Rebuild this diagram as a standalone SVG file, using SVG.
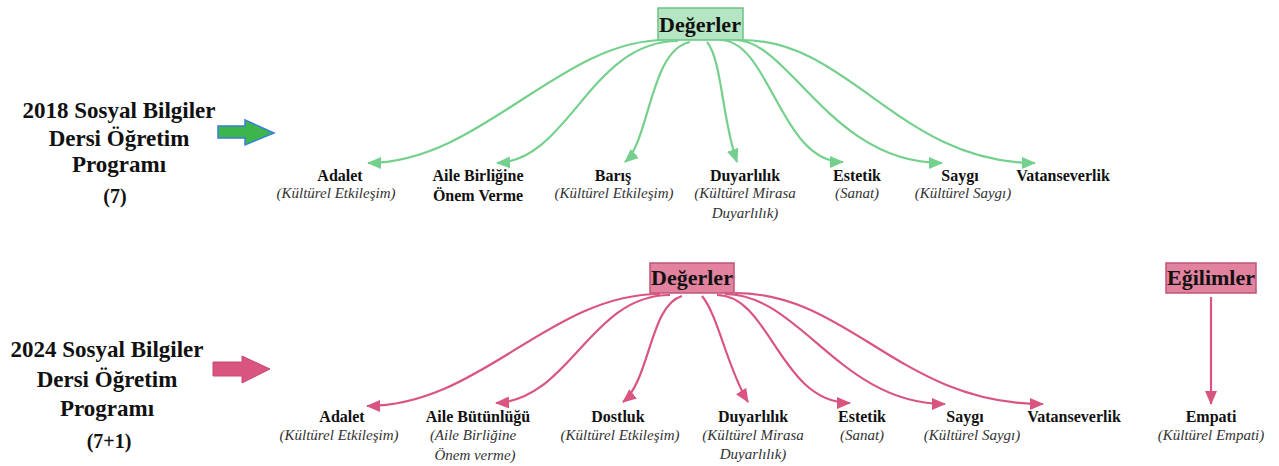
<svg xmlns="http://www.w3.org/2000/svg" width="1279" height="466" viewBox="0 0 1279 466">
<style>
text{font-family:"Liberation Serif","Times New Roman",serif;fill:#111;text-anchor:middle}
.title{font-size:23px;font-weight:bold}
.num{font-size:20px;font-weight:bold}
.box{font-size:22px;font-weight:bold}
.lbl{font-size:16px;font-weight:bold}
.sub{font-size:15px;font-style:italic;fill:#333}
.g{fill:none;stroke:#74d08c;stroke-width:2.2}
.p{fill:none;stroke:#d9557f;stroke-width:2.2}
</style>
<defs>
<marker id="ag" viewBox="0 0 14 12" markerWidth="14" markerHeight="12" refX="13" refY="6" orient="auto" markerUnits="userSpaceOnUse"><path d="M0,0 L14,6 L0,12 Z" fill="#74d08c"/></marker>
<marker id="ap" viewBox="0 0 14 12" markerWidth="14" markerHeight="12" refX="13" refY="6" orient="auto" markerUnits="userSpaceOnUse"><path d="M0,0 L14,6 L0,12 Z" fill="#d9557f"/></marker>
</defs>

<g id="title2018">
<text class="title" x="119" y="118">2018 Sosyal Bilgiler</text>
<text class="title" x="119" y="146">Dersi Öğretim</text>
<text class="title" x="119" y="172">Programı</text>
<text class="num" x="115" y="203">(7)</text>
</g>
<g id="arrow2018"><path d="M218,126 L245,126 L245,120 L274,133 L245,145 L245,138 L218,138 Z" fill="#3cb54a" stroke="#3a7fd8" stroke-width="1.5"/></g>

<g id="title2024">
<text class="title" x="107" y="357">2024 Sosyal Bilgiler</text>
<text class="title" x="107" y="387">Dersi Öğretim</text>
<text class="title" x="107" y="416">Programı</text>
<text class="num" x="109" y="448">(7+1)</text>
</g>
<g id="arrow2024"><path d="M213,362 L242,362 L242,356 L270,369 L242,383 L242,376 L213,376 Z" fill="#d9557f" stroke="#c24a72" stroke-width="1"/></g>

<g id="degerler2018">
<rect x="658" y="8" width="85" height="32" fill="#b5e6c3" stroke="#6cc184" stroke-width="1.5"/>
<text class="box" x="700" y="32">Değerler</text>
</g>
<g id="degerler2024">
<rect x="650" y="263" width="84" height="30" fill="#e2829f" stroke="#c0547a" stroke-width="1.5"/>
<text class="box" x="692" y="285">Değerler</text>
</g>
<g id="egilimler">
<rect x="1166" y="263" width="90" height="30" fill="#e2829f" stroke="#c0547a" stroke-width="1.5"/>
<text class="box" x="1211" y="285">Eğilimler</text>
</g>

<g id="connectors">
<path class="g" d="M665,40 C560,40 480,163 368,163" marker-end="url(#ag)"/>
<path class="g" d="M678,41 C590,41 570,160 497,163" marker-end="url(#ag)"/>
<path class="g" d="M690,42 C650,50 650,140 625,162" marker-end="url(#ag)"/>
<path class="g" d="M707,42 C722,60 722,120 737,162" marker-end="url(#ag)"/>
<path class="g" d="M720,40 C770,40 780,162 843,162" marker-end="url(#ag)"/>
<path class="g" d="M735,40 C790,40 830,163 942,163" marker-end="url(#ag)"/>
<path class="g" d="M742,40 C850,40 900,163 1035,163" marker-end="url(#ag)"/>

<path class="p" d="M660,294 C550,294 480,406 367,406" marker-end="url(#ap)"/>
<path class="p" d="M670,295 C590,295 570,400 496,403" marker-end="url(#ap)"/>
<path class="p" d="M682,296 C650,305 650,380 623,402" marker-end="url(#ap)"/>
<path class="p" d="M702,296 C718,315 728,370 748,402" marker-end="url(#ap)"/>
<path class="p" d="M717,295 C770,295 780,403 850,403" marker-end="url(#ap)"/>
<path class="p" d="M725,294 C800,294 840,404 945,404" marker-end="url(#ap)"/>
<path class="p" d="M735,293 C850,293 900,404 1043,404" marker-end="url(#ap)"/>
<path class="p" d="M1211,297 L1211,404" stroke-width="2.5" marker-end="url(#ap)"/>
</g>

<g id="t-adalet"><text class="lbl" x="340" y="181">Adalet</text><text class="sub" x="336" y="198">(Kültürel Etkileşim)</text></g>
<g id="t-aile"><text class="lbl" x="478" y="181">Aile Birliğine</text><text class="lbl" x="478" y="201">Önem Verme</text></g>
<g id="t-baris"><text class="lbl" x="613" y="181">Barış</text><text class="sub" x="614" y="198">(Kültürel Etkileşim)</text></g>
<g id="t-duyarlilik"><text class="lbl" x="745" y="181">Duyarlılık</text><text class="sub" x="745" y="198">(Kültürel Mirasa</text><text class="sub" x="745" y="218">Duyarlılık)</text></g>
<g id="t-estetik"><text class="lbl" x="857" y="181">Estetik</text><text class="sub" x="857" y="198">(Sanat)</text></g>
<g id="t-saygi"><text class="lbl" x="960" y="181">Saygı</text><text class="sub" x="963" y="198">(Kültürel Saygı)</text></g>
<g id="t-vatan"><text class="lbl" x="1063" y="181">Vatanseverlik</text></g>

<g id="b-adalet"><text class="lbl" x="342" y="422">Adalet</text><text class="sub" x="339" y="440">(Kültürel Etkileşim)</text></g>
<g id="b-aile"><text class="lbl" x="478" y="422">Aile Bütünlüğü</text><text class="sub" x="473" y="440">(Aile Birliğine</text><text class="sub" x="475" y="460">Önem verme)</text></g>
<g id="b-dostluk"><text class="lbl" x="618" y="422">Dostluk</text><text class="sub" x="620" y="440">(Kültürel Etkileşim)</text></g>
<g id="b-duyarlilik"><text class="lbl" x="753" y="422">Duyarlılık</text><text class="sub" x="753" y="440">(Kültürel Mirasa</text><text class="sub" x="753" y="459">Duyarlılık)</text></g>
<g id="b-estetik"><text class="lbl" x="862" y="422">Estetik</text><text class="sub" x="862" y="440">(Sanat)</text></g>
<g id="b-saygi"><text class="lbl" x="965" y="422">Saygı</text><text class="sub" x="972" y="440">(Kültürel Saygı)</text></g>
<g id="b-vatan"><text class="lbl" x="1074" y="422">Vatanseverlik</text></g>
<g id="b-empati"><text class="lbl" x="1211" y="422">Empati</text><text class="sub" x="1211" y="440">(Kültürel Empati)</text></g>
</svg>
